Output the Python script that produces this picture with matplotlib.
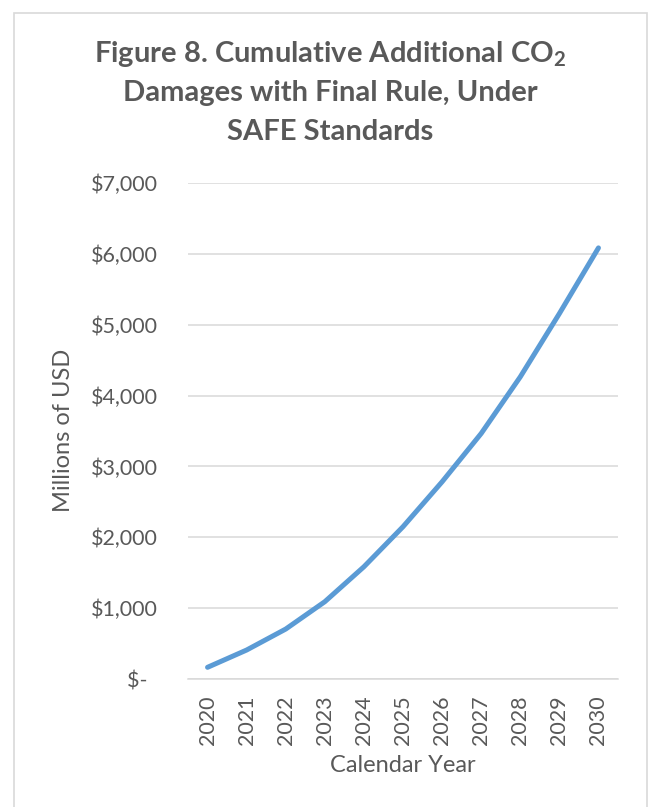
import matplotlib
matplotlib.use('Agg')
import matplotlib.pyplot as plt
from matplotlib.patches import Rectangle

# dados (milhoes de USD, acumulado)
anos = ['2020', '2021', '2022', '2023', '2024', '2025', '2026', '2027', '2028', '2029', '2030']
danos = [165, 409, 705, 1091, 1584, 2149, 2783, 3465, 4264, 5157, 6084]
yticks = [0, 1000, 2000, 3000, 4000, 5000, 6000, 7000]
ytick_labels = ['$-  ', '$1,000', '$2,000', '$3,000', '$4,000', '$5,000', '$6,000', '$7,000']

plt.rcParams['font.family'] = ['Lato', 'DejaVu Sans']
plt.rcParams['mathtext.fontset'] = 'custom'
plt.rcParams['mathtext.rm'] = 'Lato'
plt.rcParams['mathtext.bf'] = 'Lato:bold'

cinza = '#595959'
W, H = 648, 807
fig = plt.figure(figsize=(W / 100, H / 100), dpi=100)
fig.patch.set_facecolor('white')

# moldura do grafico
fig.patches.append(Rectangle((13.5 / W, -0.05), (647 - 13.5) / W, 1.05 - 12.5 / H,
                             transform=fig.transFigure, fill=False,
                             edgecolor='#D9D9D9', linewidth=1.2))

ax = fig.add_axes([188 / W, 1 - 679 / H, (618 - 188) / W, (679 - 183) / H])
x = list(range(len(anos)))
ax.plot(x, danos, color='#5B9BD5', linewidth=3.6, solid_capstyle='round', zorder=3)

ax.set_xlim(-0.5, len(anos) - 0.5)
ax.set_ylim(0, 7000)
ax.set_yticks(yticks)
ax.set_yticklabels(ytick_labels)
ax.set_xticks(x)
ax.set_xticklabels(anos, rotation=90)
ax.tick_params(axis='both', length=0, labelsize=15.5, labelcolor=cinza)
ax.tick_params(axis='y', pad=21.5)
ax.tick_params(axis='x', pad=12)
ax.grid(axis='y', color='#D9D9D9', linewidth=1.1)
ax.set_axisbelow(True)
for s in ['top', 'right', 'left']:
    ax.spines[s].set_visible(False)
ax.spines['bottom'].set_color('#D9D9D9')
ax.spines['bottom'].set_linewidth(1.1)

ax.set_xlabel('Calendar Year', fontsize=17, color=cinza, labelpad=7)
fig.text(63 / W, 1 - 430 / H, 'Millions of USD', rotation=90, fontsize=17,
         color=cinza, ha='center', va='center')

# titulo em tres linhas
cx = 330 / W
fig.text(cx, 1 - 62 / H, r'Figure 8. Cumulative Additional CO$_{\mathbf{2}}$',
         fontsize=21, fontweight='bold', color=cinza, ha='center', va='baseline')
fig.text(cx, 1 - 101 / H, 'Damages with Final Rule, Under',
         fontsize=21, fontweight='bold', color=cinza, ha='center', va='baseline')
fig.text(cx, 1 - 140 / H, 'SAFE Standards',
         fontsize=21, fontweight='bold', color=cinza, ha='center', va='baseline')

plt.savefig('out.png', dpi=100, facecolor='white')
